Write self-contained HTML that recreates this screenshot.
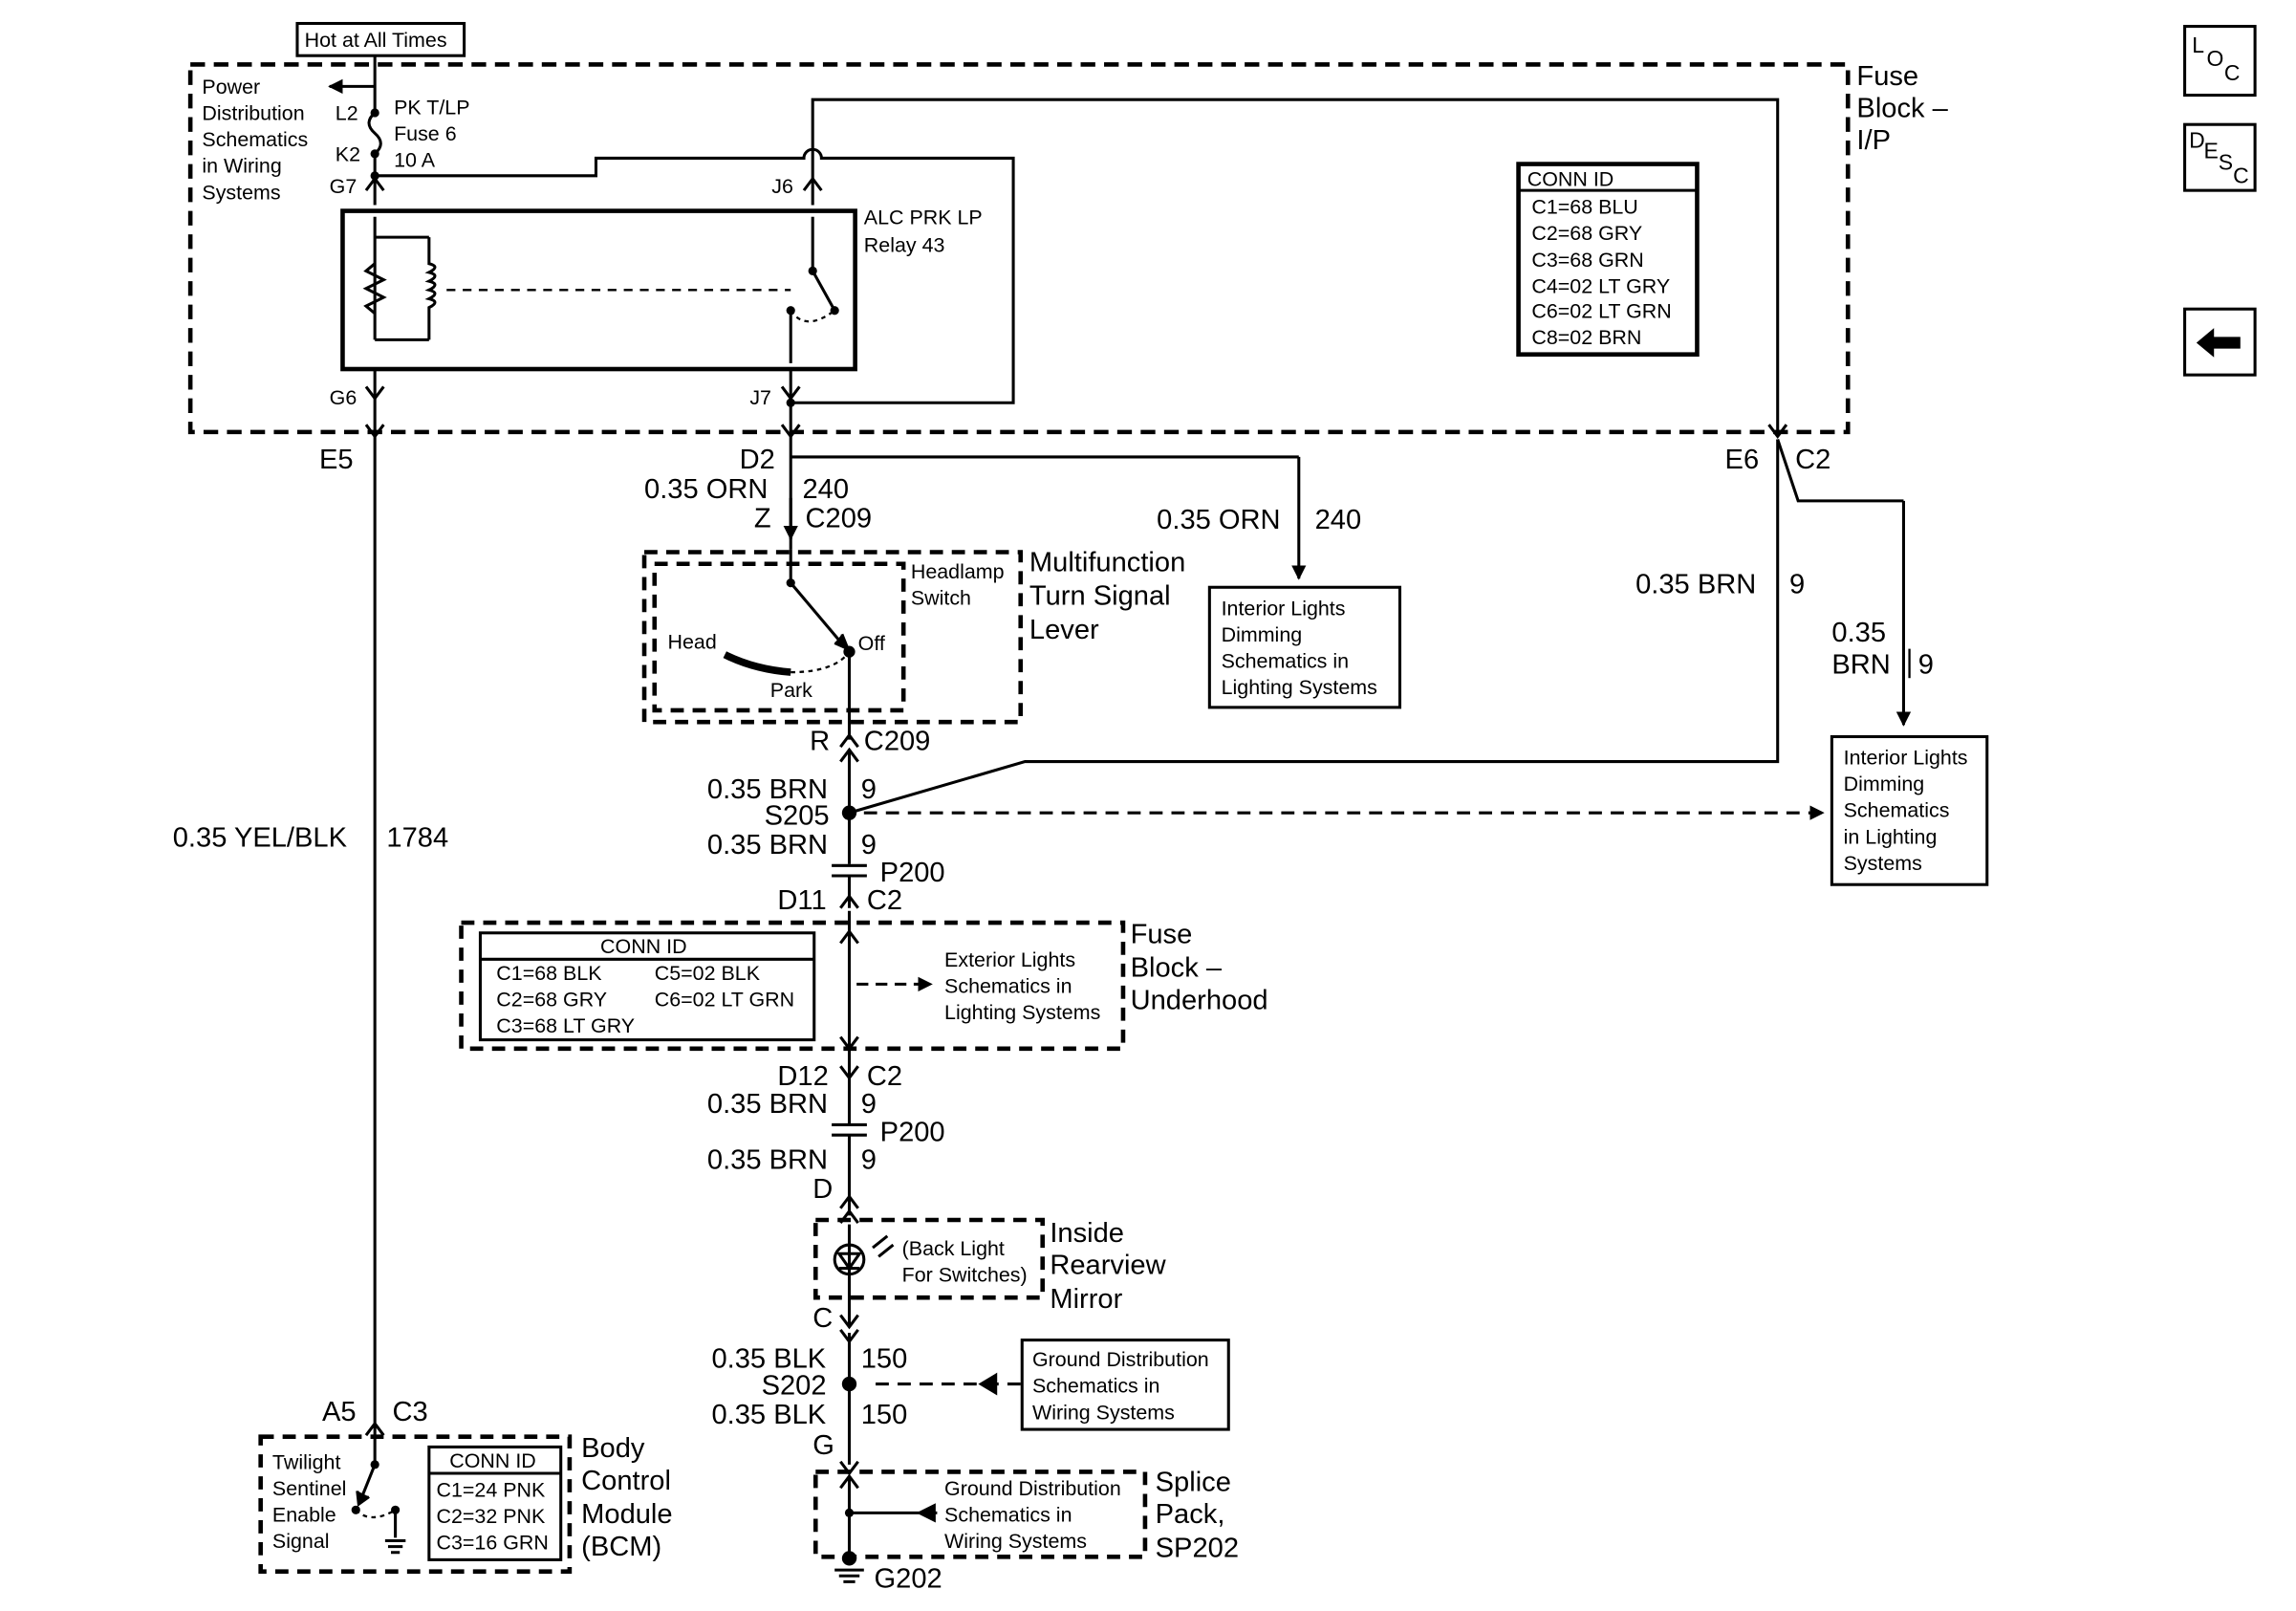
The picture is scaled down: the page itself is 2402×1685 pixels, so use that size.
<!DOCTYPE html>
<html><head><meta charset="utf-8"><style>
html,body{margin:0;padding:0;background:#fff;}
svg{display:block;}
text{font-family:"Liberation Sans",Arial,sans-serif;fill:#000;}
.s{font-size:14px;}
.m{font-size:19px;}
</style></head><body>
<svg width="2402" height="1685" viewBox="0 0 1568 1100" preserveAspectRatio="none" xmlns="http://www.w3.org/2000/svg">
<defs>
<marker id="ar" markerWidth="10" markerHeight="10" refX="9" refY="5" orient="auto" markerUnits="userSpaceOnUse"><path d="M0,0 L10,5 L0,10 z" fill="#000"/></marker>
</defs>
<g fill="none" stroke="#000" stroke-width="2">
<rect x="203" y="16" width="114" height="22" stroke-width="2"/>
<rect x="130" y="44" width="1132" height="251" stroke-width="3" stroke-dasharray="10,6"/>
<line x1="256" y1="38" x2="256" y2="77"/>
<line x1="256" y1="59" x2="225" y2="59" marker-end="url(#ar)"/>
<path d="M256,77 q-8,7 0,14 q8,7 0,14"/>
<line x1="256" y1="105" x2="256" y2="140"/>
<path d="M256,120 H407 V108 H549 a6,6 0 0 1 12,0 H692 V275 H540"/>
<path d="M555,140 V68 H1214 V295"/>
<rect x="234" y="144" width="350" height="108" stroke-width="3"/>
<path d="M256,148 V232 M256,162 H293 M256,232 H293"/>
<path d="M256,180 l-6,5 l12,6 l-12,6 l12,6 l-12,6 l6,5"/>
<path d="M293,162 V180 q8,2 0,6 q8,2 0,6 q8,2 0,6 q8,2 0,6 q8,2 0,6 V232"/>
<line x1="305" y1="198" x2="540" y2="198" stroke-dasharray="6,5" stroke-width="1.5"/>
<path d="M555,148 V185 L570,212"/>
<path d="M540,212 V248"/>
<path d="M540,212 q10,15 30,0" stroke-dasharray="3,3" stroke-width="1.5"/>
<path d="M256,252 V300 M540,252 V375"/>
<path d="M250,264 l6,8 l6,-8 M534,264 l6,8 l6,-8 M250,290 l6,8 l6,-8 M534,290 l6,8 l6,-8 M1208,290 l6,8 l6,-8"/>
<path d="M250,130 l6,-8 l6,8 M549,130 l6,-8 l6,8"/>
<line x1="540" y1="312" x2="887" y2="312"/>
<line x1="887" y1="312" x2="887" y2="395" marker-end="url(#ar)"/>
<line x1="540" y1="340" x2="540" y2="368" marker-end="url(#ar)"/>
<path d="M1214,300 L1228,342 H1300"/>
<line x1="1300" y1="342" x2="1300" y2="495" marker-end="url(#ar)"/>
<path d="M1214,300 V520 H700 L580,555"/>
<rect x="826" y="401" width="130" height="82"/>
<rect x="1251" y="503" width="106" height="101"/>
<rect x="440" y="377" width="257" height="116" stroke-width="3" stroke-dasharray="9,6"/>
<rect x="447" y="385" width="170" height="100" stroke-width="3" stroke-dasharray="9,6"/>
<path d="M540,375 V398 L578,443"/>
<path d="M575,433 l4,10 l-9,-4" fill="#000"/>
<path d="M495,447 q20,10 45,12" stroke-width="5"/>
<path d="M540,459 q30,0 40,-14" stroke-dasharray="3,3" stroke-width="1.5"/>
<path d="M580,445 V505"/>
<path d="M574,510 l6,-8 l6,8 M574,520 l6,-8 l6,8"/>
<line x1="580" y1="512" x2="580" y2="590"/>
<line x1="590" y1="555" x2="1245" y2="555" stroke-dasharray="9,6" marker-end="url(#ar)"/>
<path d="M568,591 H592 M568,598 H592 M580,598 V620"/>
<path d="M574,620 l6,-8 l6,8"/>
<rect x="315" y="630" width="452" height="86" stroke-width="3" stroke-dasharray="9,6"/>
<rect x="328" y="637" width="228" height="73"/>
<line x1="328" y1="655" x2="556" y2="655"/>
<path d="M580,622 V716 M574,644 l6,-8 l6,8 M574,708 l6,8 l6,-8"/>
<line x1="585" y1="672" x2="636" y2="672" stroke-dasharray="8,5" marker-end="url(#ar)"/>
<path d="M580,716 V768 M574,728 l6,8 l6,-8 M568,768 H592 M568,775 H592 M580,775 V830"/>
<path d="M574,825 l6,-8 l6,8 M574,835 l6,-8 l6,8"/>
<rect x="557" y="833" width="155" height="53" stroke-width="3" stroke-dasharray="9,6"/>
<circle cx="580" cy="860" r="10"/>
<path d="M573,856 H587 L580,866 Z M573,866 H587"/>
<path d="M596,852 l10,-8 M600,858 l10,-8"/>
<path d="M580,836 V905 M574,898 l6,8 l6,-8 M574,908 l6,8 l6,-8"/>
<line x1="580" y1="910" x2="580" y2="1000"/>
<line x1="697" y1="945" x2="592" y2="945" stroke-dasharray="9,6"/>
<path d="M680,939 l-10,6 l10,6 z" fill="#000"/>
<rect x="698" y="915" width="141" height="61"/>
<path d="M574,998 l6,8 l6,-8"/>
<rect x="557" y="1005" width="225" height="58" stroke-width="3" stroke-dasharray="9,6"/>
<path d="M580,1008 V1068 M574,1016 l6,-8 l6,8 M580,1033 H640"/>
<path d="M638,1028 l-10,5 l10,5 z" fill="#000"/>
<path d="M570,1072 H590 M573,1076 H587 M576,1080 H584"/>
<path d="M256,300 V990 M250,980 l6,-8 l6,8"/>
<rect x="178" y="981" width="211" height="92" stroke-width="3" stroke-dasharray="9,6"/>
<rect x="293" y="988" width="90" height="77"/>
<line x1="293" y1="1006" x2="383" y2="1006"/>
<path d="M256,990 V1000 L246,1025"/>
<path d="M244,1018 l1,9 l7,-5" fill="#000"/>
<path d="M243,1031 q10,10 27,0" stroke-dasharray="3,3" stroke-width="1.5"/>
<path d="M270,1031 V1050 M263,1052 H277 M265,1056 H275 M267,1060 H273"/>
<rect x="1492" y="18" width="48" height="47"/>
<rect x="1492" y="85" width="48" height="45"/>
<rect x="1492" y="211" width="48" height="45"/>
</g>
<g fill="#000">
<circle cx="256" cy="77" r="3"/><circle cx="256" cy="105" r="3"/><circle cx="256" cy="120" r="3"/>
<circle cx="540" cy="212" r="3"/><circle cx="570" cy="212" r="3"/><circle cx="555" cy="185" r="3"/>
<circle cx="540" cy="275" r="3"/><circle cx="540" cy="398" r="3"/><circle cx="580" cy="445" r="4"/>
<circle cx="580" cy="555" r="5"/><circle cx="580" cy="945" r="5"/><circle cx="580" cy="1033" r="3"/>
<circle cx="580" cy="1064" r="5"/><circle cx="256" cy="1000" r="3"/><circle cx="270" cy="1031" r="3"/>
<circle cx="243" cy="1031" r="3"/>
<path d="M1500,234 l12,-10 v6 h18 v8 h-18 v6 z"/>
</g>
<g class="s">
<text x="208" y="32">Hot at All Times</text>
<text x="138" y="64">Power</text><text x="138" y="82">Distribution</text><text x="138" y="100">Schematics</text><text x="138" y="118">in Wiring</text><text x="138" y="136">Systems</text>
<text x="229" y="82">L2</text><text x="229" y="110">K2</text><text x="225" y="132">G7</text>
<text x="269" y="78">PK T/LP</text><text x="269" y="96">Fuse 6</text><text x="269" y="114">10 A</text>
<text x="527" y="132">J6</text><text x="225" y="276">G6</text><text x="512" y="276">J7</text>
<text x="590" y="153">ALC PRK LP</text><text x="590" y="172">Relay 43</text>
<text x="1043" y="127">CONN ID</text>
<text x="1046" y="146">C1=68 BLU</text><text x="1046" y="164">C2=68 GRY</text><text x="1046" y="182">C3=68 GRN</text><text x="1046" y="200">C4=02 LT GRY</text><text x="1046" y="217">C6=02 LT GRN</text><text x="1046" y="235">C8=02 BRN</text>
<text x="622" y="395">Headlamp</text><text x="622" y="413">Switch</text>
<text x="456" y="443">Head</text><text x="586" y="444">Off</text><text x="526" y="476">Park</text>
<text x="834" y="420">Interior Lights</text><text x="834" y="438">Dimming</text><text x="834" y="456">Schematics in</text><text x="834" y="474">Lighting Systems</text>
<text x="1259" y="522">Interior Lights</text><text x="1259" y="540">Dimming</text><text x="1259" y="558">Schematics</text><text x="1259" y="576">in Lighting</text><text x="1259" y="594">Systems</text>
<text x="410" y="651">CONN ID</text>
<text x="339" y="669">C1=68 BLK</text><text x="447" y="669">C5=02 BLK</text>
<text x="339" y="687">C2=68 GRY</text><text x="447" y="687">C6=02 LT GRN</text>
<text x="339" y="705">C3=68 LT GRY</text>
<text x="645" y="660">Exterior Lights</text><text x="645" y="678">Schematics in</text><text x="645" y="696">Lighting Systems</text>
<text x="616" y="857">(Back Light</text><text x="616" y="875">For Switches)</text>
<text x="705" y="933">Ground Distribution</text><text x="705" y="951">Schematics in</text><text x="705" y="969">Wiring Systems</text>
<text x="645" y="1021">Ground Distribution</text><text x="645" y="1039">Schematics in</text><text x="645" y="1057">Wiring Systems</text>
<text x="186" y="1003">Twilight</text><text x="186" y="1021">Sentinel</text><text x="186" y="1039">Enable</text><text x="186" y="1057">Signal</text>
<text x="307" y="1002">CONN ID</text><text x="298" y="1022">C1=24 PNK</text><text x="298" y="1040">C2=32 PNK</text><text x="298" y="1058">C3=16 GRN</text>
</g>
<line x1="1037" y1="130" x2="1159" y2="130" stroke="#000" stroke-width="2"/>
<rect x="1037" y="112" width="122" height="130" fill="none" stroke="#000" stroke-width="3"/>
<g class="m">
<text x="1268" y="58">Fuse</text><text x="1268" y="80">Block –</text><text x="1268" y="102">I/P</text>
<text x="218" y="320">E5</text><text x="505" y="320">D2</text><text x="1178" y="320">E6</text><text x="1226" y="320">C2</text>
<text x="440" y="340">0.35 ORN</text><text x="548" y="340">240</text>
<text x="515" y="360">Z</text><text x="550" y="360">C209</text>
<text x="790" y="361">0.35 ORN</text><text x="898" y="361">240</text>
<text x="703" y="390">Multifunction</text><text x="703" y="413">Turn Signal</text><text x="703" y="436">Lever</text>
<text x="1117" y="405">0.35 BRN</text><text x="1222" y="405">9</text>
<text x="1251" y="438">0.35</text><text x="1251" y="460">BRN</text><text x="1310" y="460">9</text>
<text x="553" y="512">R</text><text x="590" y="512">C209</text>
<text x="483" y="545">0.35 BRN</text><text x="588" y="545">9</text>
<text x="522" y="563">S205</text>
<text x="483" y="583">0.35 BRN</text><text x="588" y="583">9</text>
<text x="118" y="578">0.35 YEL/BLK</text><text x="264" y="578">1784</text>
<text x="601" y="602">P200</text>
<text x="531" y="621">D11</text><text x="592" y="621">C2</text>
<text x="772" y="644">Fuse</text><text x="772" y="667">Block –</text><text x="772" y="689">Underhood</text>
<text x="531" y="741">D12</text><text x="592" y="741">C2</text>
<text x="483" y="760">0.35 BRN</text><text x="588" y="760">9</text>
<text x="601" y="779">P200</text>
<text x="483" y="798">0.35 BRN</text><text x="588" y="798">9</text>
<text x="555" y="818">D</text>
<text x="717" y="848">Inside</text><text x="717" y="870">Rearview</text><text x="717" y="893">Mirror</text>
<text x="555" y="906">C</text>
<text x="486" y="934">0.35 BLK</text><text x="588" y="934">150</text>
<text x="520" y="952">S202</text>
<text x="486" y="972">0.35 BLK</text><text x="588" y="972">150</text>
<text x="555" y="993">G</text>
<text x="789" y="1018">Splice</text><text x="789" y="1040">Pack,</text><text x="789" y="1063">SP202</text>
<text x="597" y="1084">G202</text>
<text x="220" y="970">A5</text><text x="268" y="970">C3</text>
<text x="397" y="995">Body</text><text x="397" y="1017">Control</text><text x="397" y="1040">Module</text><text x="397" y="1062">(BCM)</text>
</g>
<g stroke="#000" stroke-width="1.5">
<line x1="1304" y1="443" x2="1304" y2="463"/>
</g>
<g font-size="15">
<text x="1497" y="36">L</text><text x="1507" y="45">O</text><text x="1519" y="55">C</text>
<text x="1495" y="101">D</text><text x="1505" y="108">E</text><text x="1515" y="116">S</text><text x="1525" y="125">C</text>
</g>
</svg>
</body></html>
